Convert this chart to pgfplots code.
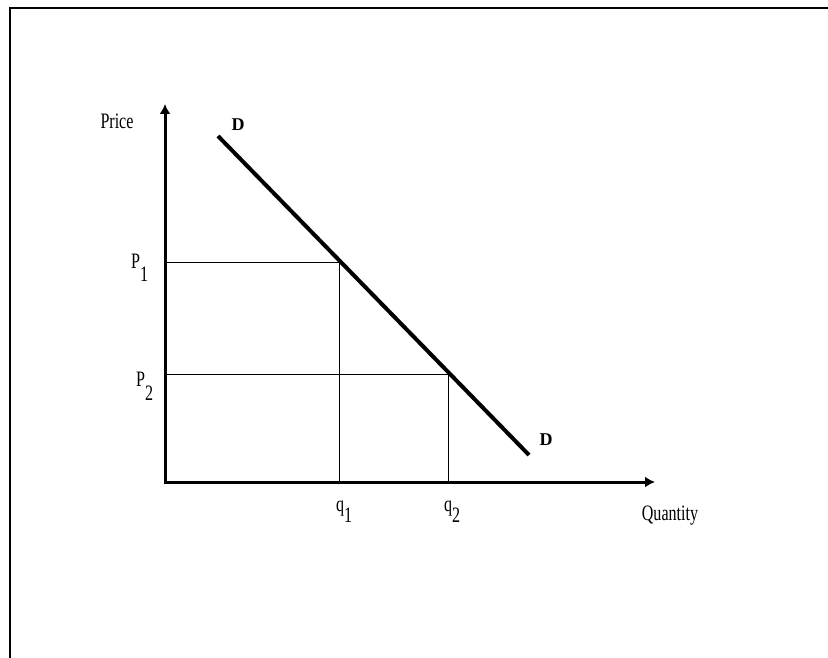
\documentclass[border=0pt]{standalone}
\usepackage{pgfplots}
\pgfplotsset{compat=1.18}
\usepackage{graphicx}
\usepackage{fontspec}
\setmainfont{Liberation Serif}
\usetikzlibrary{arrows.meta}
\newcommand{\lab}[1]{\fontsize{22}{24}\selectfont\scalebox{0.73}[1]{#1}}
\begin{document}
\begin{tikzpicture}
\begin{axis}[
  scale only axis, width=828pt, height=658pt,
  xmin=0, xmax=828, ymin=0, ymax=658, y dir=reverse,
  axis lines=none, clip=false,
]
% frame (left and top)
\addplot[black, line width=2pt, line join=miter] coordinates {(10,658) (10,8) (828,8)};
% guide lines
\addplot[black, line width=1pt] coordinates {(165,262) (339,262) (339,482)};
\addplot[black, line width=1pt] coordinates {(165,374) (448,374) (448,482)};
% axes
\addplot[black, line width=3pt, line join=miter, {Latex[length=10pt,width=11pt]}-{Latex[length=10pt,width=11pt]}] coordinates {(165,104) (165,482) (655,482)};
% demand curve
\addplot[black, line width=4pt] coordinates {(218,136) (529,455)};
% labels
\node[anchor=base] at (axis cs:117,129) {\lab{Price}};
\node[anchor=base] at (axis cs:670,520) {\lab{Quantity}};
\node[anchor=base west, inner sep=0pt] at (axis cs:131,268) {\lab{P\raisebox{-14pt}{1}}};
\node[anchor=base west, inner sep=0pt] at (axis cs:136,386) {\lab{P\raisebox{-14pt}{2}}};
\node[anchor=base west, inner sep=0pt] at (axis cs:336,511) {\lab{q\raisebox{-11pt}{1}}};
\node[anchor=base west, inner sep=0pt] at (axis cs:444,511) {\lab{q\raisebox{-11pt}{2}}};
\node[anchor=base, inner sep=0pt] at (axis cs:238,131) {\fontsize{18}{20}\selectfont\bfseries D};
\node[anchor=base, inner sep=0pt] at (axis cs:546,445) {\fontsize{18}{20}\selectfont\bfseries D};
\coordinate (bl) at (axis cs:0,658);
\coordinate (tr) at (axis cs:828,0);
\end{axis}
\pgfresetboundingbox
\path (bl) rectangle (tr);
\end{tikzpicture}
\end{document}
